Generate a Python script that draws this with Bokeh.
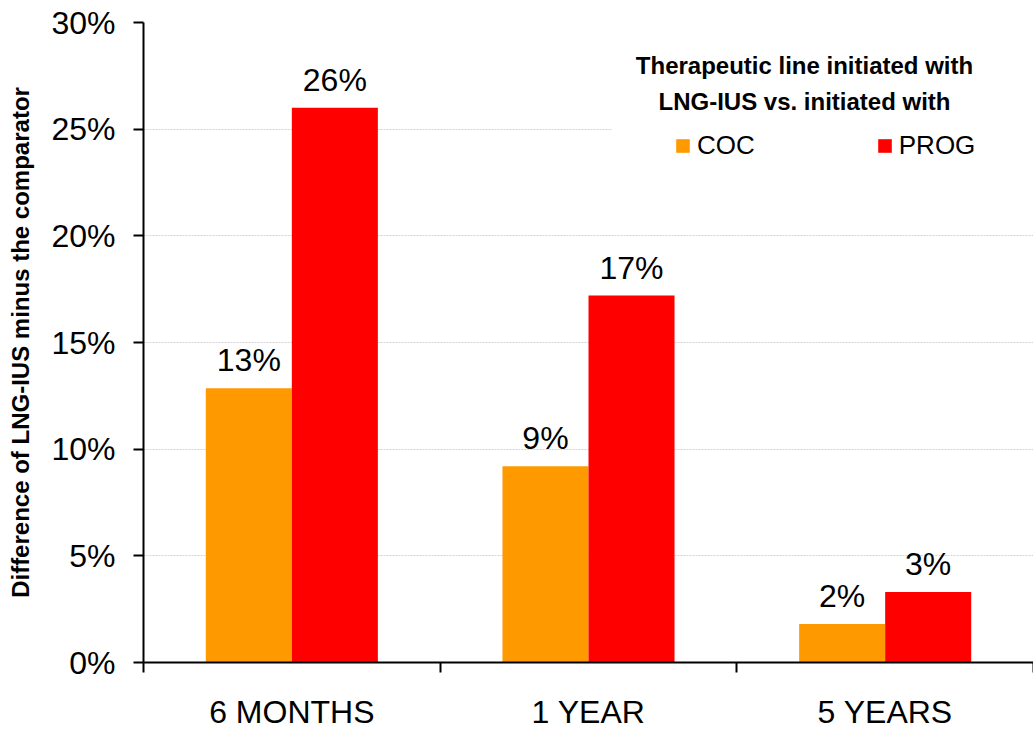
from bokeh.plotting import figure
from bokeh.models import (ColumnDataSource, Range1d, FixedTicker, NumeralTickFormatter,
                          LabelSet, Label, Legend, LegendItem, BoxAnnotation)
from bokeh.core.properties import value
from bokeh.embed import file_html
from bokeh.resources import INLINE

# ---- data ----
periods = ["6 MONTHS", "1 YEAR", "5 YEARS"]
coc = [0.1285, 0.092, 0.018]
prog = [0.260, 0.172, 0.033]
series_names = ["COC", "PROG"]
series_colors = ["#FF9900", "#FF0000"]
y_ticks = [0.0, 0.05, 0.10, 0.15, 0.20, 0.25, 0.30]

FONT = "Liberation Sans"
bar_w = 0.29

idx = list(range(len(periods)))
centers = [i + 0.5 for i in idx]

p = figure(width=1033, height=733, output_backend="svg", toolbar_location=None,
           x_range=Range1d(0, 3.0), y_range=Range1d(0, 0.30),
           min_border_left=143, min_border_right=0, min_border_top=22, min_border_bottom=71)
p.outline_line_color = None
p.background_fill_color = "white"
p.border_fill_color = "white"

src_coc = ColumnDataSource(dict(x=[c - bar_w / 2 for c in centers], top=coc,
                                lab=[f"{round(v * 100)}%" for v in coc]))
src_prog = ColumnDataSource(dict(x=[c + bar_w / 2 for c in centers], top=prog,
                                 lab=[f"{round(v * 100)}%" for v in prog]))

r1 = p.vbar(x="x", top="top", width=bar_w, source=src_coc, fill_color=series_colors[0], line_color=None)
r2 = p.vbar(x="x", top="top", width=bar_w, source=src_prog, fill_color=series_colors[1], line_color=None)

for s in (src_coc, src_prog):
    p.add_layout(LabelSet(x="x", y="top", text="lab", source=s, y_offset=17,
                          text_align="center", text_baseline="alphabetic",
                          text_font=value(FONT), text_font_size=value("32px"), text_color="black"))

# grid
p.xgrid.visible = False
p.ygrid.ticker = FixedTicker(ticks=y_ticks)
p.ygrid.grid_line_color = "#d4d4d4"
p.ygrid.grid_line_dash = "2 1"
p.ygrid.grid_line_width = 1

# y axis
ya = p.yaxis[0]
ya.ticker = FixedTicker(ticks=y_ticks)
ya.formatter = NumeralTickFormatter(format="0%")
ya.major_label_text_font = FONT
ya.major_label_text_font_size = "32px"
ya.major_label_text_color = "black"
ya.major_tick_out = 10
ya.major_tick_in = 0
ya.minor_tick_out = 0
ya.minor_tick_in = 0
ya.major_tick_line_width = 2
ya.axis_line_width = 2
ya.major_label_standoff = 18
ya.axis_label = "Difference of LNG-IUS minus the comparator"
ya.axis_label_text_font = FONT
ya.axis_label_text_font_size = "24px"
ya.axis_label_text_font_style = "bold"
ya.axis_label_text_color = "black"
ya.axis_label_standoff = 14

# x axis
xa = p.xaxis[0]
xa.ticker = FixedTicker(ticks=centers, minor_ticks=[0, 1, 2, 3])
xa.major_label_overrides = {c: name for c, name in zip(centers, periods)}
xa.major_label_text_font = FONT
xa.major_label_text_font_size = "32px"
xa.major_label_text_color = "black"
xa.major_tick_out = 0
xa.major_tick_in = 0
xa.minor_tick_out = 10
xa.minor_tick_in = 0
xa.minor_tick_line_width = 2
xa.axis_line_width = 2
xa.major_label_standoff = 21

# legend background box
p.add_layout(BoxAnnotation(left=1.58, right=3.0, top=0.292, bottom=0.23,
                           fill_color="white", fill_alpha=1.0, line_color=None))

legend = Legend(items=[LegendItem(label=series_names[0], renderers=[r1]),
                       LegendItem(label=series_names[1], renderers=[r2])],
                orientation="horizontal", location=(531, 501),
                glyph_width=17, glyph_height=17, label_standoff=6, spacing=121,
                padding=0, margin=0,
                label_text_font=FONT, label_text_font_size="26px", label_text_color="black",
                background_fill_alpha=0, border_line_color=None)
p.add_layout(legend, "center")

for txt, yy in (("Therapeutic line initiated with", 597), ("LNG-IUS vs. initiated with", 561)):
    p.add_layout(Label(x=661, y=yy, x_units="screen", y_units="screen", text=txt,
                       text_align="center", text_baseline="alphabetic",
                       text_font=FONT, text_font_size="24px", text_font_style="bold",
                       text_color="black"))

open("out.html", "w").write(file_html(p, INLINE))
